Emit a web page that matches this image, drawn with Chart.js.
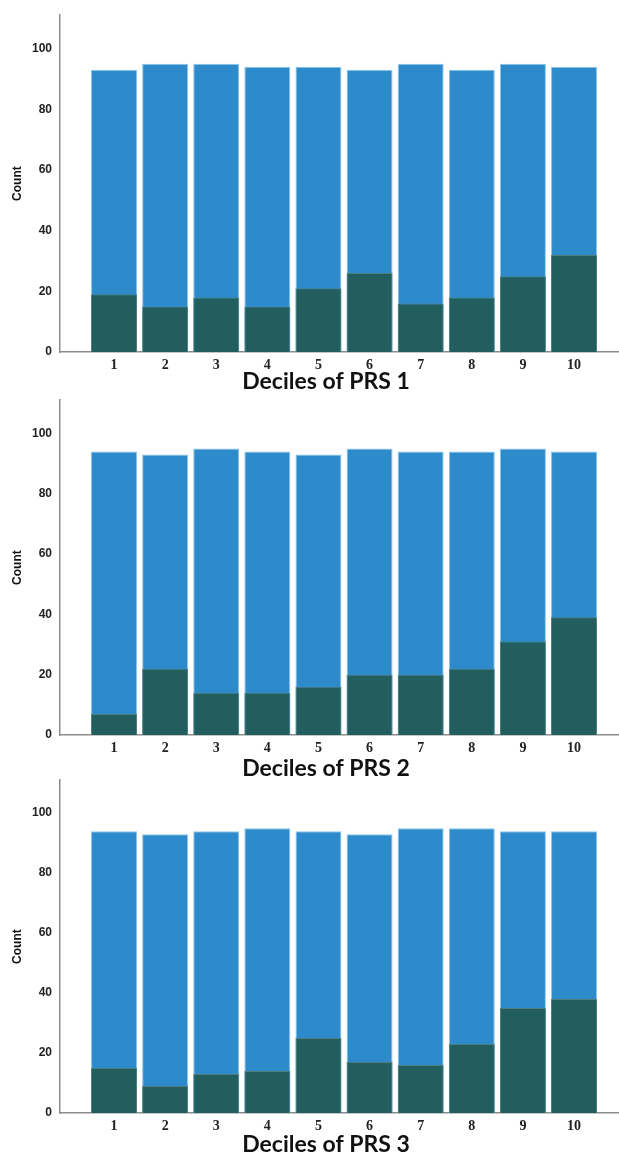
<!DOCTYPE html>
<html>
<head>
<meta charset="utf-8">
<script src="https://cdn.jsdelivr.net/npm/chart.js@4.4.0/dist/chart.umd.min.js"></script>
<style>
  body { margin: 0; background: #fff; width: 619px; height: 1155px; position: relative; overflow: hidden; }
  .panel { position: absolute; left: 0; width: 619px; }
</style>
</head>
<body>
<div class="panel" style="top:0;height:395px"><canvas id="prs1"></canvas></div>
<div class="panel" style="top:385px;height:395px"><canvas id="prs2"></canvas></div>
<div class="panel" style="top:765px;height:390px"><canvas id="prs3"></canvas></div>
<script>
// decile categories
const deciles = [1, 2, 3, 4, 5, 6, 7, 8, 9, 10];

// bar heights (total count per decile, and the dark lower part)
const totalPRS1 = [93, 95, 95, 94, 94, 93, 95, 93, 95, 94];
const casesPRS1 = [19, 15, 18, 15, 21, 26, 16, 18, 25, 32];
const totalPRS2 = [94, 93, 95, 94, 93, 95, 94, 94, 95, 94];
const casesPRS2 = [7, 22, 14, 14, 16, 20, 20, 22, 31, 39];
const totalPRS3 = [94, 93, 94, 95, 94, 93, 95, 95, 94, 94];
const casesPRS3 = [15, 9, 13, 14, 25, 17, 16, 23, 35, 38];

const yTicks = [0, 20, 40, 60, 80, 100];
const xTitles = ['Deciles of PRS 1', 'Deciles of PRS 2', 'Deciles of PRS 3'];

const BLUE = '#2e8bcb';
const TEAL = '#225e5d';
const AXIS = '#8c8c8c';

// big x-axis title, drawn a bit left of the axis centre like in the original
const xTitlePlugin = {
    id: 'xTitle',
    afterDraw(chart, args, opts) {
        const {ctx, chartArea} = chart;
        ctx.save();
        ctx.font = 'bold 23px Lato, "Open Sans", sans-serif';
        ctx.fillStyle = '#111';
        ctx.textAlign = 'center';
        ctx.textBaseline = 'alphabetic';
        ctx.fillText(opts.text, opts.x, chartArea.bottom + opts.dy);
        ctx.restore();
    }
};

function makePanel(id, totals, cases, title, padTop, xHeight, titleDy) {
    const ctx = document.getElementById(id).getContext('2d');
    return new Chart(ctx, {
        type: 'bar',
        data: {
            datasets: [{
                // dark part drawn on top
                data: deciles.map((d, i) => ({x: d, y: cases[i]})),
                backgroundColor: TEAL,
                borderColor: '#4f7f7e',
                borderWidth: 1,
                grouped: false,
                barPercentage: 0.9,
                categoryPercentage: 1
            }, {
                data: deciles.map((d, i) => ({x: d, y: totals[i]})),
                backgroundColor: BLUE,
                borderColor: '#8cc6ec',
                borderWidth: 1,
                grouped: false,
                barPercentage: 0.9,
                categoryPercentage: 1
            }]
        },
        options: {
            responsive: true,
            maintainAspectRatio: false,
            animation: false,
            layout: { padding: { top: padTop, right: 0, left: 0, bottom: 0 } },
            plugins: {
                legend: { display: false },
                tooltip: { enabled: false },
                xTitle: { text: title, x: 326, dy: titleDy }
            },
            scales: {
                x: {
                    type: 'linear',
                    offset: false,
                    min: -0.057,
                    max: 10.88,
                    grid: { display: false, drawTicks: false },
                    border: { display: true, color: AXIS, width: 1.5 },
                    afterBuildTicks: (scale) => { scale.ticks = deciles.map(v => ({value: v})); },
                    afterFit: (scale) => { scale.height = xHeight; },
                    ticks: {
                        padding: 5,
                        color: '#222',
                        font: { family: '"Liberation Serif", "DejaVu Serif", serif', size: 14, weight: 'bold' }
                    }
                },
                y: {
                    min: 0,
                    max: 111,
                    grid: { display: false, drawTicks: false },
                    border: { display: true, color: AXIS, width: 1.5 },
                    afterBuildTicks: (scale) => { scale.ticks = yTicks.map(v => ({value: v})); },
                    afterFit: (scale) => { scale.width = 60; },
                    ticks: {
                        padding: 8,
                        color: '#222',
                        font: { family: '"Liberation Sans Narrow", "Liberation Sans", sans-serif', size: 12, weight: 'bold' }
                    },
                    title: {
                        display: true,
                        text: 'Count',
                        color: '#111',
                        padding: { top: 10, bottom: 0 },
                        font: { family: '"Liberation Sans", Arial, sans-serif', size: 12, weight: 'bold' }
                    }
                }
            }
        },
        plugins: [xTitlePlugin]
    });
}

makePanel('prs1', totalPRS1, casesPRS1, xTitles[0], 14, 43, 37);
makePanel('prs2', totalPRS2, casesPRS2, xTitles[1], 8, 45, 41);
makePanel('prs3', totalPRS3, casesPRS3, xTitles[2], 5, 42, 39);
</script>
</body>
</html>
